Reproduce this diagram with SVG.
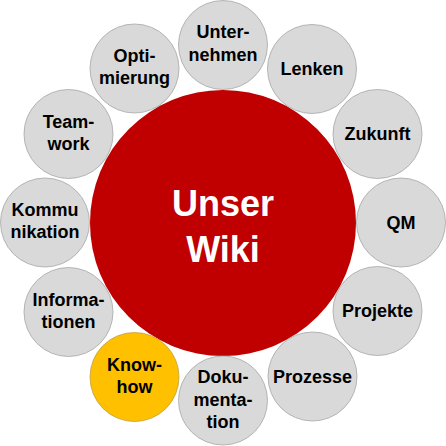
<svg xmlns="http://www.w3.org/2000/svg" width="446" height="446" viewBox="0 0 446 446">
<style>
.n{fill:#D9D9D9;stroke:#A6A6A6;stroke-width:0.8}
.y{fill:#FFC000;stroke:#BFA040;stroke-width:0.8}
.t{font-family:"Liberation Sans",Arial,sans-serif;font-weight:bold;font-size:18px;fill:#000;text-anchor:middle}
.c{font-family:"Liberation Sans",Arial,sans-serif;font-weight:bold;font-size:36px;fill:#fff;text-anchor:middle}
</style>
<rect width="446" height="446" fill="#fff"/>
<g id="connectors"></g>
<g id="center">
<circle cx="223" cy="223" r="133" fill="#C00000"/>
<text class="c" x="223" y="216">Unser</text>
<text class="c" x="223" y="262">Wiki</text>
</g>
<g id="unternehmen"><circle class="n" cx="223" cy="45" r="44.5"/><text class="t" x="223" y="38">Unter-</text><text class="t" x="223" y="61">nehmen</text></g>
<g id="lenken"><circle class="n" cx="312" cy="69" r="44.5"/><text class="t" x="312" y="75">Lenken</text></g>
<g id="zukunft"><circle class="n" cx="377.5" cy="134" r="44.5"/><text class="t" x="377.5" y="140">Zukunft</text></g>
<g id="qm"><circle class="n" cx="401" cy="222.5" r="44.5"/><text class="t" x="401" y="228.5">QM</text></g>
<g id="projekte"><circle class="n" cx="377.5" cy="311" r="44.5"/><text class="t" x="377.5" y="317">Projekte</text></g>
<g id="prozesse"><circle class="n" cx="312.5" cy="376.5" r="44.5"/><text class="t" x="312.5" y="382.5">Prozesse</text></g>
<g id="dokumentation"><circle class="n" cx="223" cy="400.5" r="44.5"/><text class="t" x="223" y="383">Doku-</text><text class="t" x="223" y="405.5">menta-</text><text class="t" x="223" y="428">tion</text></g>
<g id="knowhow"><circle class="y" cx="134.5" cy="377" r="44.5"/><text class="t" x="134.5" y="371">Know-</text><text class="t" x="134.5" y="393">how</text></g>
<g id="informationen"><circle class="n" cx="68.5" cy="312" r="44.5"/><text class="t" x="68.5" y="306">Informa-</text><text class="t" x="68.5" y="328">tionen</text></g>
<g id="kommunikation"><circle class="n" cx="45" cy="222.5" r="44.5"/><text class="t" x="45" y="216">Kommu</text><text class="t" x="45" y="238">nikation</text></g>
<g id="teamwork"><circle class="n" cx="68.5" cy="134" r="44.5"/><text class="t" x="68.5" y="128">Team-</text><text class="t" x="68.5" y="150">work</text></g>
<g id="optimierung"><circle class="n" cx="134.5" cy="68.5" r="44.5"/><text class="t" x="134.5" y="62">Opti-</text><text class="t" x="134.5" y="84">mierung</text></g>
</svg>
